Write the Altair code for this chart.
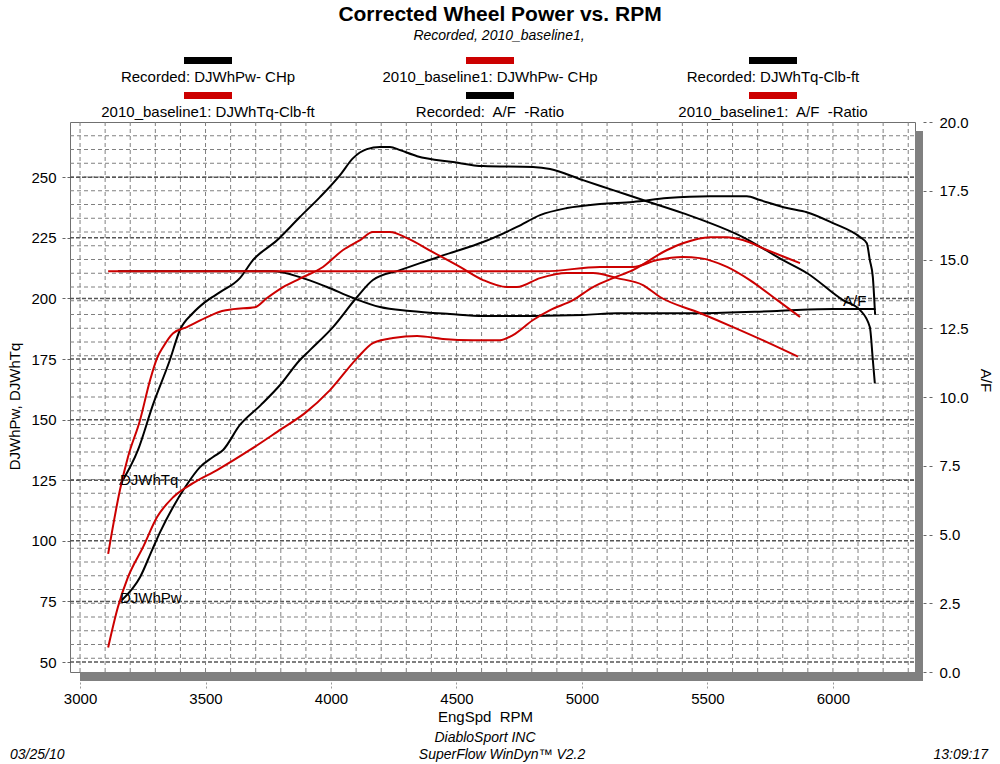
import altair as alt
import pandas as pd

# ---------------- data ----------------
rec_tq_rpm = [3159, 3231, 3290, 3358, 3398, 3450, 3498, 3558, 3637, 3689, 3785, 3876, 3956, 4036,
              4088, 4143, 4195, 4235, 4275, 4343, 4486, 4606, 4805, 4873, 5004, 5124, 5243, 5402,
              5641, 5801, 5896, 6040, 6108, 6147, 6159, 6167]
rec_tq = [123, 137.5, 156, 174.6, 187, 194, 198.5, 202.6, 208.4, 215.8, 224, 233.6, 241.8, 250.9,
          257.9, 261.6, 262.5, 262.5, 261.2, 258.7, 256.3, 254.6, 254.2, 253.4, 248.8, 244.7, 240.6,
          235.2, 225.3, 215.8, 210.5, 199.3, 195.2, 188.2, 174.6, 165]

rec_pw_rpm = [3167, 3239, 3287, 3319, 3371, 3418, 3478, 3530, 3570, 3637, 3720, 3797, 3876, 3916,
              4008, 4104, 4167, 4275, 4355, 4474, 4606, 4741, 4833, 4940, 5072, 5203, 5339, 5510,
              5657, 5709, 5817, 5896, 6000, 6108, 6135, 6147, 6159, 6167]
rec_pw = [75.6, 85, 96.2, 103.6, 114, 122, 130.4, 134.6, 137.5, 147.8, 156, 164.3, 174.6, 178.7,
          188.2, 200.6, 207.6, 211.7, 214.6, 218.7, 223.3, 229.5, 234.4, 237.3, 239, 239.8, 241.4,
          242.2, 242.2, 240.6, 237.3, 235.6, 231.1, 225.3, 222.8, 215.8, 208.8, 195.2]

rec_af_rpm = [3151, 3769, 3876, 3984, 4088, 4195, 4315, 4474, 4606, 4805, 5004, 5139, 5470, 5777,
              6000, 6167, 6168]
rec_af = [14.57, 14.57, 14.36, 14.0, 13.6, 13.27, 13.13, 13.02, 12.95, 12.95, 12.98, 13.05, 13.05,
          13.13, 13.2, 13.2, 12.99]

base_tq_rpm = [3112, 3159, 3191, 3239, 3279, 3307, 3331, 3371, 3426, 3506, 3566, 3610, 3697, 3745,
               3809, 3876, 3968, 4048, 4116, 4167, 4235, 4303, 4406, 4514, 4606, 4701, 4741, 4833,
               4940, 5044, 5139, 5243, 5311, 5470, 5602, 5737, 5861]
base_tq = [94.6, 121, 134.6, 149.8, 166.3, 175.4, 180, 185.7, 188.2, 192.3, 194.8, 195.6, 196.4,
           200.2, 204.7, 208.2, 213, 220, 224.1, 227.4, 227.4, 224.9, 219.1, 213, 207.6, 204.7,
           204.7, 208.4, 210.5, 210.5, 208.4, 205.5, 200.6, 194, 188.2, 182, 176]

base_pw_rpm = [3112, 3151, 3191, 3251, 3307, 3371, 3450, 3546, 3677, 3800, 3896, 3996, 4104, 4167,
               4247, 4343, 4446, 4566, 4673, 4725, 4805, 4873, 4964, 5044, 5124, 5203, 5339, 5402,
               5510, 5578, 5641, 5737, 5817, 5869]
base_pw = [56, 72.7, 85, 97.4, 109.8, 118, 123.8, 129.2, 137.5, 146, 152.7, 162.2, 175.4, 181.6,
           183.7, 184.5, 183.3, 182.8, 182.8, 184.9, 191.1, 195.2, 199.3, 204.7, 208.4, 211.7, 220,
           222.8, 225.3, 225.3, 224.1, 220, 216.7, 214.6]

base_af_rpm = [3112, 4850, 5072, 5203, 5300, 5402, 5470, 5578, 5669, 5777, 5869]
base_af = [14.57, 14.57, 14.73, 14.73, 14.98, 15.09, 15.05, 14.73, 14.25, 13.53, 12.91]

left_ticks = [50, 75, 100, 125, 150, 175, 200, 225, 250]
right_ticks = [0, 2.5, 5, 7.5, 10, 12.5, 15, 17.5, 20]
x_ticks = [3000, 3500, 4000, 4500, 5000, 5500, 6000]

legend_labels = ["Recorded: DJWhPw- CHp", "2010_baseline1: DJWhPw- CHp", "Recorded: DJWhTq-Clb-ft",
                 "2010_baseline1: DJWhTq-Clb-ft", "Recorded:\u00a0 A/F\u00a0 -Ratio",
                 "2010_baseline1:\u00a0 A/F\u00a0 -Ratio"]
legend_is_red = [False, True, False, True, False, True]

curve_labels = ["DJWhTq", "DJWhPw"]
curve_label_rpm = [3159, 3159]
curve_label_val = [125, 76.5]
af_label_rpm = [6040]
af_label_val = [13.5]

# ---------------- styling / layout ----------------
FONT = "Liberation Sans, Arial, Helvetica, sans-serif"
BLACK = "#000000"
RED = "#cc0000"
GRID = "#808080"
W, H = 845, 550
PAD_L, PAD_T = 70, 122

x_scale = alt.Scale(domain=[2960, 6327], nice=False, zero=False)
l_scale = alt.Scale(domain=[45.9, 272.8], nice=False, zero=False)
r_scale = alt.Scale(domain=[0, 20], nice=False, zero=False)

X_AXIS = alt.Axis(values=x_ticks, format="d", offset=10, tickSize=6, tickDash=[2, 2],
                  tickColor="#999999", domain=False, grid=False, labelPadding=3,
                  labelFontSize=15, labelColor="black", labelFont=FONT,
                  titleFont=FONT, titleFontSize=15, titleFontWeight="normal",
                  titleX=415, titleY=34, titleBaseline="middle", titleColor="black")
L_AXIS = alt.Axis(orient="left", values=left_ticks, format="d", tickSize=8, tickDash=[3, 2],
                  tickColor="#666666", domain=False, grid=False, labelPadding=6,
                  labelFontSize=15, labelColor="black", labelFont=FONT,
                  titleFont=FONT, titleFontSize=15, titleFontWeight="normal",
                  titleX=-56, titleY=284, titleBaseline="middle", titleColor="black")
R_AXIS = alt.Axis(orient="right", values=right_ticks, format=".1f", offset=8, tickSize=12,
                  tickDash=[3, 3], tickColor="#666666", domain=False, grid=False, labelPadding=4,
                  labelFontSize=15, labelColor="black", labelFont=FONT,
                  titleFont=FONT, titleFontSize=15, titleFontWeight="normal",
                  titleX=62, titleY=258, titleBaseline="middle", titleColor="black")

X_TITLE = "EngSpd\u00a0 RPM"


def xenc(field):
    return alt.X(f"{field}:Q", scale=x_scale, axis=X_AXIS, title=X_TITLE)


def sdf(name, rpm, vals):
    return pd.DataFrame({"series": name, "rpm": rpm, "val": vals, "idx": list(range(len(rpm)))})


one = pd.DataFrame({"a": [0]})

# grid lines
vgrid = alt.Chart(pd.DataFrame({"g": list(range(3000, 6400, 100))})).mark_rule(
    color=GRID, strokeDash=[4, 3], strokeWidth=1
).encode(x=xenc("g"), y=alt.value(0), y2=alt.value(H))

hgrid_fine = alt.Chart(pd.DataFrame({"g": [k / 2 for k in range(1, 40)]})).mark_rule(
    color=GRID, strokeDash=[4, 3], strokeWidth=1
).encode(y=alt.Y("g:Q", scale=r_scale, axis=R_AXIS, title="A/F"), x=alt.value(0), x2=alt.value(W))

hgrid_major = alt.Chart(pd.DataFrame({"g": left_ticks})).mark_rule(
    color="#555555", strokeDash=[4, 2], strokeWidth=1.5
).encode(y=alt.Y("g:Q", scale=l_scale, axis=L_AXIS, title="DJWhPw, DJWhTq"),
         x=alt.value(0), x2=alt.value(W))

shadow_r = alt.Chart(one).mark_rect(color="#808080").encode(
    x=alt.value(W), x2=alt.value(W + 8), y=alt.value(9), y2=alt.value(H + 9))
shadow_b = alt.Chart(one).mark_rect(color="#808080").encode(
    x=alt.value(10), x2=alt.value(W + 8), y=alt.value(H), y2=alt.value(H + 9))


def left_lines(frames, color):
    return alt.Chart(pd.concat(frames)).mark_line(color=color, strokeWidth=2,
                                                   interpolate="monotone").encode(
        x=xenc("rpm"), y=alt.Y("val:Q", scale=l_scale, axis=None),
        detail="series:N", order="idx:Q")


def right_lines(frames, color):
    return alt.Chart(pd.concat(frames)).mark_line(color=color, strokeWidth=2,
                                                   interpolate="monotone").encode(
        x=xenc("rpm"), y=alt.Y("val:Q", scale=r_scale, axis=None),
        detail="series:N", order="idx:Q")


black_left = left_lines([sdf("rec_tq", rec_tq_rpm, rec_tq), sdf("rec_pw", rec_pw_rpm, rec_pw)], BLACK)
black_right = right_lines([sdf("rec_af", rec_af_rpm, rec_af)], BLACK)
red_left = left_lines([sdf("base_tq", base_tq_rpm, base_tq), sdf("base_pw", base_pw_rpm, base_pw)], RED)
red_right = right_lines([sdf("base_af", base_af_rpm, base_af)], RED)

lbl_left = alt.Chart(pd.DataFrame({"t": curve_labels, "rpm": curve_label_rpm, "val": curve_label_val})).mark_text(
    align="left", baseline="middle", font=FONT, fontSize=15, color="black"
).encode(x=xenc("rpm"), y=alt.Y("val:Q", scale=l_scale, axis=None), text="t:N")

lbl_right = alt.Chart(pd.DataFrame({"t": ["A/F"], "rpm": af_label_rpm, "val": af_label_val})).mark_text(
    align="left", baseline="middle", font=FONT, fontSize=15, color="black"
).encode(x=xenc("rpm"), y=alt.Y("val:Q", scale=r_scale, axis=None), text="t:N")

# legend (laid out in three columns, swatch above label)
LEG_COL_X = [208, 490, 773]
LEG_SW_Y = [57, 92]
LEG_TXT_Y = [77, 112]
rows = []
for i, lab in enumerate(legend_labels):
    c, r = i % 3, i // 3
    rows.append({
        "label": lab,
        "color": RED if legend_is_red[i] else BLACK,
        "x0": LEG_COL_X[c] - 24 - PAD_L, "x1": LEG_COL_X[c] + 24 - PAD_L,
        "y0": LEG_SW_Y[r] - PAD_T, "y1": LEG_SW_Y[r] + 7 - PAD_T,
        "tx": LEG_COL_X[c] - PAD_L, "ty": LEG_TXT_Y[r] - PAD_T,
    })
leg = pd.DataFrame(rows)
leg_sw = alt.Chart(leg).mark_rect().encode(
    x=alt.X("x0:Q", scale=None), x2="x1:Q", y=alt.Y("y0:Q", scale=None), y2="y1:Q",
    color=alt.Color("color:N", scale=None))
leg_txt = alt.Chart(leg).mark_text(align="center", baseline="middle", font=FONT, fontSize=15,
                                   color="black").encode(
    x=alt.X("tx:Q", scale=None), y=alt.Y("ty:Q", scale=None), text="label:N")


def note(text, ax, ay, align="center", size=14, weight="normal", style="normal"):
    return alt.Chart(one).mark_text(text=text, align=align, baseline="middle", font=FONT,
                                    fontSize=size, fontWeight=weight, fontStyle=style,
                                    color="black").encode(
        x=alt.value(ax - PAD_L), y=alt.value(ay - PAD_T))


notes = [
    note("Corrected Wheel Power vs. RPM", 500, 15, size=21, weight="bold"),
    note("Recorded, 2010_baseline1,", 499, 36, size=14, style="italic"),
    note("DiabloSport INC", 485, 738, size=14, style="italic"),
    note("SuperFlow WinDyn\u2122 V2.2", 502, 755, size=14, style="italic"),
    note("03/25/10", 10, 755, align="left", size=14, style="italic"),
    note("13:09:17", 988, 755, align="right", size=14, style="italic"),
]

chart = alt.layer(
    hgrid_fine, hgrid_major, vgrid, shadow_r, shadow_b,
    black_left, black_right, red_left, red_right,
    lbl_left, lbl_right, leg_sw, leg_txt, *notes
).resolve_scale(y="independent").properties(
    width=W, height=H,
    autosize=alt.AutoSizeParams(type="none"),
    padding={"left": PAD_L, "top": PAD_T, "right": 1000 - PAD_L - W, "bottom": 764 - PAD_T - H},
    background="white",
).configure_view(stroke="#707070", strokeWidth=1)

chart.save("out.html", embed_options={"renderer": "svg", "actions": False})
